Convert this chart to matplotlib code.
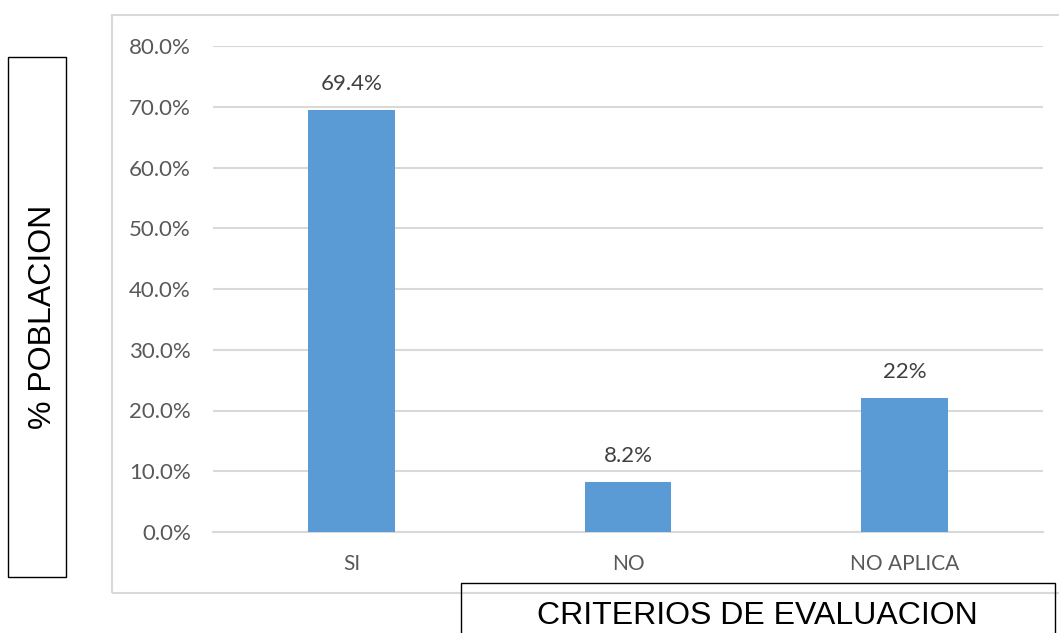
import matplotlib.pyplot as plt
from matplotlib.patches import Rectangle

categories = ["SI", "NO", "NO APLICA"]
values = [69.4, 8.2, 22.0]
yticks = [0, 10, 20, 30, 40, 50, 60, 70, 80]

W, H = 1059, 633
fig = plt.figure(figsize=(W / 100, H / 100), dpi=100)


def fx(px):
    return px / W


def fy(py):
    return 1 - py / H


# outer chart frame
fig.patches.append(Rectangle((fx(112), fy(593)), fx(960), (593 - 15) / H,
                             transform=fig.transFigure, fill=False,
                             edgecolor="#d9d9d9", linewidth=1.5))

ax = fig.add_axes([fx(213), fy(532), fx(830), (532 - 46) / H])
x = range(len(categories))
ax.bar(x, values, width=0.314, color="#5b9bd5", zorder=3)

for xi, v in zip(x, values):
    ax.annotate(f"{v:g}%", (xi, v), xytext=(0, 12), textcoords="offset points",
                ha="center", va="bottom", fontsize=16, family="Lato",
                color="#404040")

ax.set_xlim(-0.5, 2.5)
ax.set_ylim(0, 80)
ax.set_yticks(yticks)
ax.set_yticklabels([f"{t:.1f}%" for t in yticks])
ax.set_xticks(list(x))
ax.set_xticklabels(categories)
ax.tick_params(axis="y", length=0, pad=16, labelsize=16, labelcolor="#595959")
ax.tick_params(axis="x", length=0, pad=16, labelsize=15, labelcolor="#595959")
for lab in ax.get_xticklabels() + ax.get_yticklabels():
    lab.set_family("Lato")

ax.grid(axis="y", color="#d9d9d9", linewidth=1.5, zorder=0)
for s in ["top", "right", "left"]:
    ax.spines[s].set_visible(False)
ax.spines["bottom"].set_color("#d9d9d9")
ax.spines["bottom"].set_linewidth(1.5)
ax.set_facecolor("none")

# boxed axis titles
fig.patches.append(Rectangle((fx(8), fy(577)), fx(58), (577 - 57) / H,
                             transform=fig.transFigure, fill=False,
                             edgecolor="black", linewidth=1))
fig.text(fx(43), fy(317), "% POBLACION", rotation=90, ha="center", va="center",
         fontsize=23, family="Liberation Sans", color="black")

fig.patches.append(Rectangle((fx(461), fy(640)), fx(594), (640 - 583) / H,
                             transform=fig.transFigure, fill=False,
                             edgecolor="black", linewidth=1))
fig.text(fx(757), fy(616), "CRITERIOS DE EVALUACION", ha="center", va="center",
         fontsize=23, family="Liberation Sans", color="black")

fig.savefig("out.png", dpi=100)
